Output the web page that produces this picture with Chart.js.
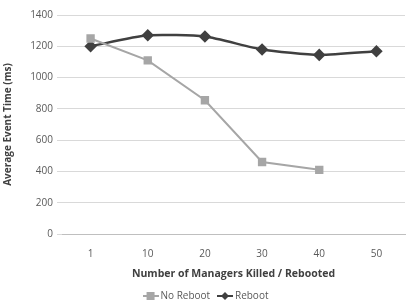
<!DOCTYPE html>
<html>
<head>
<meta charset="utf-8">
<script src="https://cdn.jsdelivr.net/npm/chart.js@4"></script>
<style>
  html, body { margin: 0; padding: 0; background: #fff; overflow: hidden; }
  #wrap { position: relative; width: 412px; height: 302px; }
</style>
</head>
<body>
<div id="wrap"><canvas id="chart"></canvas></div>
<script>
  // --- Data ---
  const categories = ['1', '10', '20', '30', '40', '50'];
  const noReboot = [1250, 1110, 855, 460, 410, null];
  const reboot = [1200, 1270, 1262, 1180, 1145, 1168];
  const yTicks = [0, 200, 400, 600, 800, 1000, 1200, 1400];

  const font = { family: '"Open Sans", sans-serif', size: 10 };

  // small "line + marker" swatch for the legend, like the Excel original
  function swatch(color, style) {
    const c = document.createElement('canvas');
    c.width = 16; c.height = 10;
    const g = c.getContext('2d');
    g.strokeStyle = color; g.fillStyle = color; g.lineWidth = 2;
    g.beginPath(); g.moveTo(0, 5); g.lineTo(16, 5); g.stroke();
    if (style === 'rect') g.fillRect(4, 1, 8, 8);
    else { g.beginPath(); g.moveTo(8, 1); g.lineTo(12, 5); g.lineTo(8, 9); g.lineTo(4, 5); g.closePath(); g.fill(); }
    return c;
  }

  new Chart(document.getElementById('chart'), {
    type: 'line',
    data: {
      labels: categories,
      datasets: [
        { label: 'No Reboot', data: noReboot, borderColor: '#a6a6a6', backgroundColor: '#a6a6a6',
          borderWidth: 2, pointStyle: 'rect', pointRadius: 4.5, tension: 0, spanGaps: false },
        { label: 'Reboot', data: reboot, borderColor: '#404040', backgroundColor: '#404040',
          borderWidth: 2.5, pointStyle: 'rectRot', pointRadius: 4.5, tension: 0.2 },
      ],
    },
    options: {
      responsive: true,
      maintainAspectRatio: false,
      animation: false,
      layout: { padding: { top: 15, right: 0, left: 2, bottom: -9 } },
      scales: {
        y: {
          min: 0, max: 1400,
          afterBuildTicks: s => { s.ticks = yTicks.map(v => ({ value: v })); },
          afterFit: s => { s.width = 60; },
          grid: { color: '#d9d9d9', tickLength: 5, drawTicks: true },
          border: { display: false },
          ticks: { color: '#595959', font, padding: 4, callback: v => String(v) },
          title: { display: true, text: 'Average Event Time (ms)', color: '#404040',
                   font: { ...font, weight: 'bold' }, padding: 0 },
        },
        x: {
          offset: true,
          afterFit: s => { s.height = 55; },
          grid: { display: false },
          border: { color: '#bfbfbf' },
          ticks: { color: '#595959', font, padding: 6 },
          title: { display: true, text: 'Number of Managers Killed / Rebooted', color: '#404040',
                   font: { ...font, size: 10.5, weight: 'bold' }, padding: { top: 0, bottom: 9 } },
        },
      },
      plugins: {
        legend: {
          position: 'bottom',
          labels: {
            usePointStyle: true, color: '#595959', font, padding: 2,
            generateLabels: chart => chart.data.datasets.map((d, i, all) => ({
              text: i < all.length - 1 ? d.label + '   ' : d.label,
              fontColor: '#595959', hidden: false, datasetIndex: i,
              pointStyle: swatch(d.borderColor, d.pointStyle), lineWidth: 0,
            })),
          },
        },
        tooltip: { enabled: false },
      },
    },
  });
</script>
</body>
</html>
